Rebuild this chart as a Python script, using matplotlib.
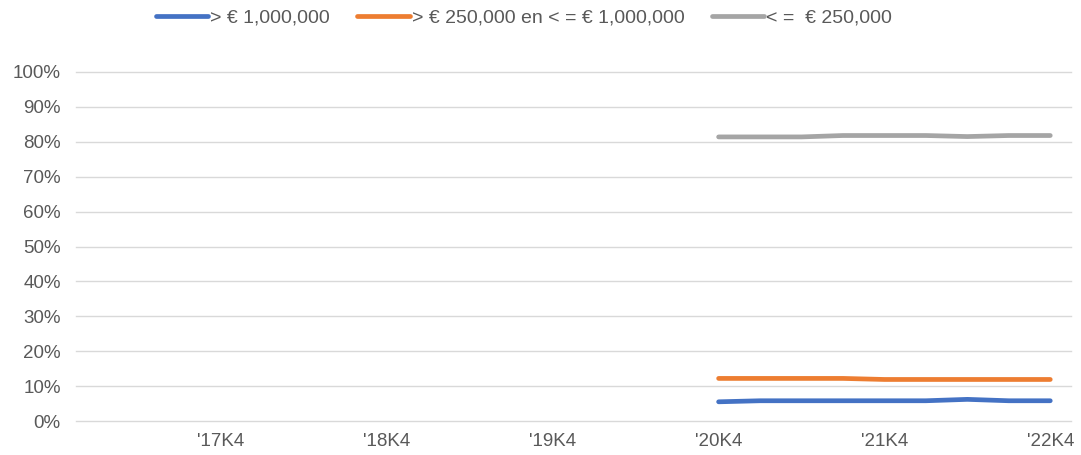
import numpy as np
import matplotlib
matplotlib.use("Agg")
import matplotlib.pyplot as plt
from matplotlib.ticker import PercentFormatter

plt.rcParams["font.family"] = ["Liberation Sans", "DejaVu Sans"]

# quarters '17K1 .. '22K4
quarters = [f"'{y}K{q}" for y in range(17, 23) for q in range(1, 5)]
data_quarters = quarters[15:]  # '20K4 .. '22K4

big = [0.055, 0.058, 0.058, 0.058, 0.058, 0.058, 0.062, 0.058, 0.058]
mid = [0.122, 0.122, 0.122, 0.122, 0.119, 0.119, 0.119, 0.119, 0.119]
small = [0.814, 0.814, 0.814, 0.818, 0.818, 0.818, 0.815, 0.818, 0.818]

labels = ["> € 1,000,000", "> € 250,000 en < = € 1,000,000", "< =  € 250,000"]
colors = ["#4472C4", "#ED7D31", "#A5A5A5"]

fig = plt.figure(figsize=(10.81, 4.55), dpi=100)
ax = fig.add_axes([76 / 1081, 1 - 421 / 455, (1071 - 76) / 1081, (421 - 72) / 455])

x_data = np.array([quarters.index(q) for q in data_quarters])

for vals, lab, col in zip([big, mid, small], labels, colors):
    ax.plot(x_data, vals, color=col, linewidth=3.4, label=lab,
            solid_capstyle="round", solid_joinstyle="round")

ax.set_xlim(-0.5, len(quarters) - 0.5)
ax.set_ylim(0, 1)
ax.set_yticks(np.arange(0, 1.01, 0.1))
ax.yaxis.set_major_formatter(PercentFormatter(1.0, decimals=0))
tick_idx = [i for i, q in enumerate(quarters) if q.endswith("K4")]
ax.set_xticks(tick_idx)
ax.set_xticklabels([quarters[i] for i in tick_idx])

ax.grid(axis="y", color="#D9D9D9", linewidth=1)
for gl in ax.get_ygridlines():
    gl.set_clip_on(False)
ax.set_axisbelow(True)
for s in ax.spines.values():
    s.set_visible(False)
ax.tick_params(length=0, labelsize=13.5, colors="#595959")
ax.tick_params(axis="x", pad=9)
ax.tick_params(axis="y", pad=11)

fig.legend(loc="center", bbox_to_anchor=(524 / 1081, 1 - 18 / 455), ncol=3,
           frameon=False, fontsize=14, handlelength=2.7, handletextpad=0.1,
           columnspacing=1.4, labelcolor="#595959")

fig.savefig("out.png", dpi=100)
